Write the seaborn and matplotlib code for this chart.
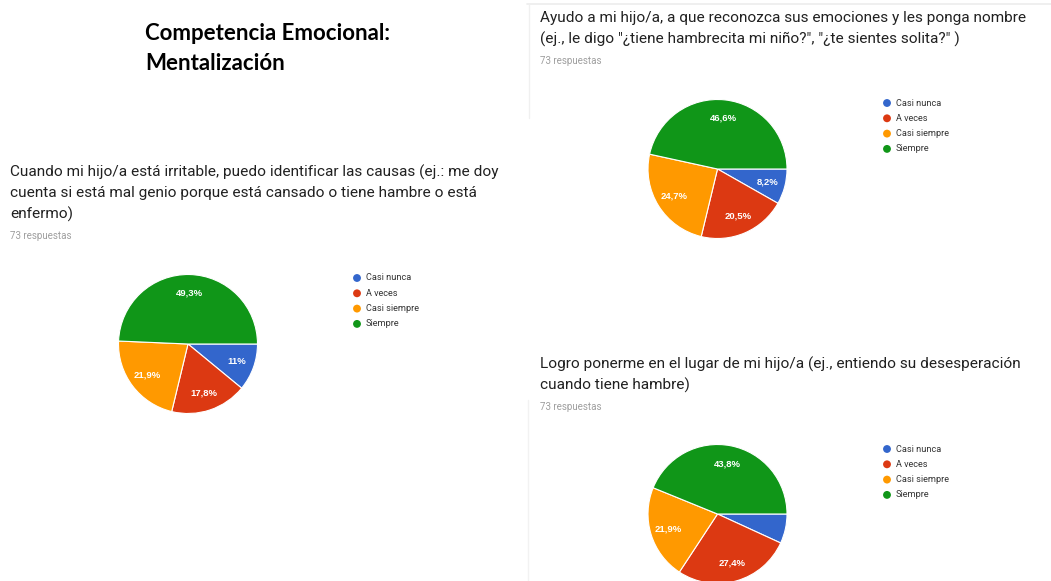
import numpy as np
import pandas as pd
import seaborn as sns
import matplotlib
matplotlib.use("Agg")
from matplotlib import pyplot as plt

# categories / colours (Google Forms palette)
categories = ["Casi nunca", "A veces", "Casi siempre", "Siempre"]
palette = sns.color_palette(["#3366cc", "#dc3912", "#ff9900", "#109618"])

# answers out of 73 for each question
q1_counts = [8, 13, 16, 36]
q2_counts = [6, 15, 18, 34]
q3_counts = [5, 20, 16, 32]

q1_text = ["Cuando mi hijo/a está irritable, puedo identificar las causas (ej.: me doy",
           "cuenta si está mal genio porque está cansado o tiene hambre o está",
           "enfermo)"]
q2_text = ["Ayudo a mi hijo/a, a que reconozca sus emociones y les ponga nombre",
           "(ej., le digo \"¿tiene hambrecita mi niño?\", \"¿te sientes solita?\" )"]
q3_text = ["Logro ponerme en el lugar de mi hijo/a (ej., entiendo su desesperación",
           "cuando tiene hambre)"]
n_resp = "73 respuestas"

sns.set_theme(style="white")
plt.rcParams['font.family'] = ['Roboto', 'DejaVu Sans']

W, H = 1051, 581
fig = plt.figure(figsize=(W / 100, H / 100), dpi=100)
fig.patch.set_facecolor("white")

# overlay in pixel coords for the text
ov = fig.add_axes([0, 0, 1, 1])
ov.set_xlim(0, W)
ov.set_ylim(H, 0)
ov.axis("off")

# faint screenshot edges
ov.plot([527, W], [4, 4], color="#ececec", lw=1.2)
ov.plot([529, 529], [4, 118], color="#f0f0f0", lw=1)
ov.plot([528, 528], [400, H], color="#f2f2f2", lw=1)

ov.text(145, 33, "Competencia Emocional:", fontsize=16, fontweight="bold",
        family=["Lato", "DejaVu Sans"], va="center", color="black")
ov.text(145, 63, "Mentalización", fontsize=16, fontweight="bold",
        family=["Lato", "DejaVu Sans"], va="center", color="black")


def fmt(pct):
    if pct < 7.5:
        return ""
    s = f"{pct:.1f}"
    if s.endswith(".0"):
        s = s[:-2]
    return s.replace(".", ",") + "%"


def block(counts, lines, tx, ty, cx, cy, r, lx, ly):
    for i, ln in enumerate(lines):
        ov.text(tx, ty + i * 21, ln, fontsize=11.1, color="#212121", va="center")
    ov.text(tx, ty + len(lines) * 21 + 1, n_resp, fontsize=7, color="#9e9e9e", va="center")

    df = pd.DataFrame({"cat": categories, "n": counts})
    ax = fig.add_axes([(cx - r) / W, 1 - (cy + r) / H, 2 * r / W, 2 * r / H])
    ax.pie(df["n"], colors=palette, startangle=0, counterclock=False,
           autopct=fmt, pctdistance=0.74,
           wedgeprops=dict(edgecolor="white", linewidth=0.8),
           textprops=dict(color="white", fontsize=6.8, fontweight="bold",
                          family=["Liberation Sans", "DejaVu Sans"]))
    ax.set_xlim(-1, 1)
    ax.set_ylim(-1, 1)
    ax.axis("off")

    for i, c in enumerate(df["cat"]):
        ov.scatter(lx, ly + i * 15.3, s=32, color=palette[i], edgecolors="none")
        ov.text(lx + 9, ly + i * 15.3, c, fontsize=6.6, color="#333333", va="center")


block(q1_counts, q1_text, 10, 172, 188, 344, 69.5, 357, 278)
block(q2_counts, q2_text, 540, 18, 717.5, 169, 69.5, 887, 103)
block(q3_counts, q3_text, 540, 364, 717.5, 514, 69.5, 887, 449)

fig.savefig("out.png", dpi=100)
